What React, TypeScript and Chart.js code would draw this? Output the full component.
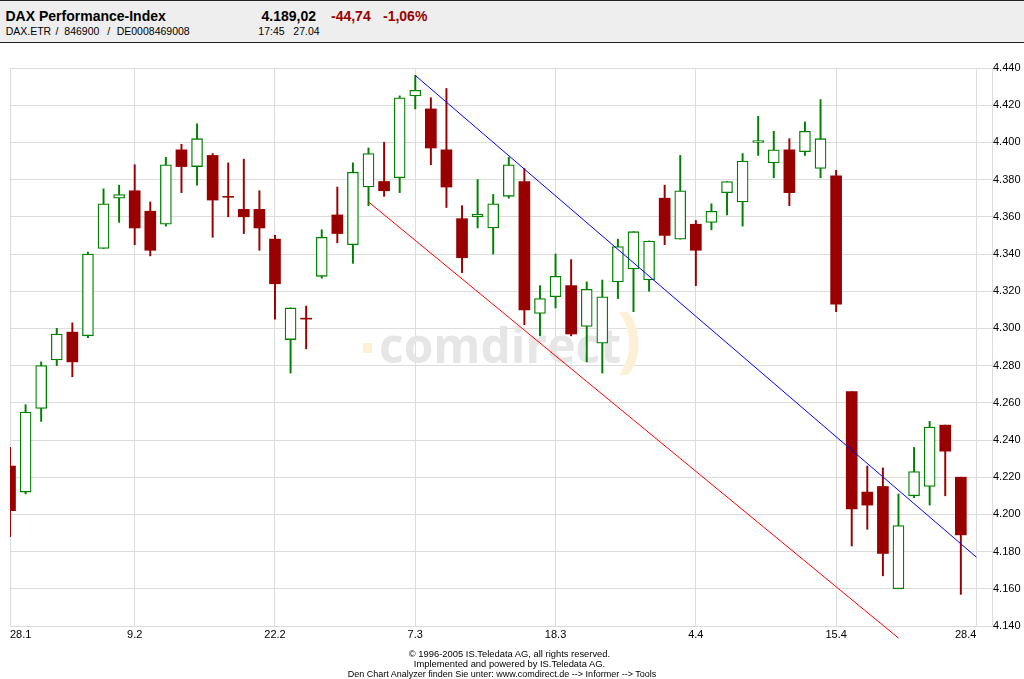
import React, { useEffect, useRef } from "react";
import { Chart, registerables } from "chart.js";

Chart.register(...registerables);

// ---- data ----
const dates = [
  "28.1", "31.1", "1.2", "2.2", "3.2", "4.2", "7.2", "8.2", "9.2", "10.2",
  "11.2", "14.2", "15.2", "16.2", "17.2", "18.2", "21.2", "22.2", "23.2", "24.2",
  "25.2", "28.2", "1.3", "2.3", "3.3", "4.3", "7.3", "8.3", "9.3", "10.3",
  "11.3", "14.3", "15.3", "16.3", "17.3", "18.3", "21.3", "22.3", "23.3", "24.3",
  "29.3", "30.3", "31.3", "1.4", "4.4", "5.4", "6.4", "7.4", "8.4", "11.4",
  "12.4", "13.4", "14.4", "15.4", "18.4", "19.4", "20.4", "21.4", "22.4", "25.4",
  "26.4", "27.4", "28.4",
];

const opens = [
  4226, 4212, 4257, 4283, 4298, 4296, 4343, 4370, 4374, 4363,
  4356, 4396, 4387, 4393, 4371, 4364, 4364, 4348, 4294, 4305.5,
  4328, 4361, 4345, 4376, 4379, 4381, 4425, 4418, 4396, 4359,
  4360, 4354, 4371, 4379, 4308, 4317, 4323, 4301, 4292, 4325,
  4332, 4326, 4370, 4348, 4356, 4357, 4373, 4368, 4400, 4389,
  4396, 4395, 4386, 4382, 4266, 4212, 4215, 4160, 4210, 4215,
  4248, 4220,
];
const highs = [
  4236, 4259, 4282, 4300, 4303, 4341, 4375, 4377, 4388, 4368,
  4392, 4399, 4410, 4394, 4389, 4391, 4374, 4350, 4311, 4312,
  4353, 4376, 4389, 4397, 4400, 4425, 4436, 4424, 4429, 4366,
  4380, 4372, 4392, 4386, 4323, 4340, 4337, 4325, 4326, 4348,
  4352, 4347, 4377, 4393, 4358, 4367, 4379, 4394, 4414, 4406,
  4402, 4411, 4423, 4385, 4266, 4226, 4225, 4211, 4236, 4250,
  4248, 4220,
];
const lows = [
  4188, 4211, 4250, 4280, 4274, 4295, 4343, 4357, 4345, 4339,
  4355, 4373, 4377, 4349, 4360, 4351, 4342, 4305, 4276, 4289,
  4327, 4346, 4335, 4366, 4371, 4373, 4418, 4388, 4365, 4330,
  4354, 4340, 4370, 4302, 4296, 4311, 4296, 4282, 4276, 4316,
  4309, 4320, 4345, 4348, 4323, 4353, 4361, 4355, 4393, 4381,
  4366, 4393, 4381, 4309, 4183, 4192, 4167, 4160, 4209, 4205,
  4210, 4157,
];
const closes = [
  4202, 4255, 4280, 4297, 4282, 4340, 4367, 4372, 4354, 4342,
  4388, 4387, 4402, 4369, 4370.5, 4360, 4354, 4324, 4311, 4305,
  4349, 4351, 4384, 4394, 4374, 4424, 4428, 4397, 4376, 4338,
  4361.5, 4367, 4388, 4310, 4316, 4328, 4297, 4321, 4317, 4344,
  4352, 4347, 4350, 4374, 4342, 4363, 4379, 4390, 4401, 4396,
  4373, 4406, 4402, 4313, 4203, 4205, 4179, 4194, 4223, 4247,
  4234, 4189,
];

const tickLabels = ["28.1", "9.2", "22.2", "7.3", "18.3", "4.4", "15.4", "28.4"];

const upperTrendDates = ["7.3", "28.4"];
const upperTrendValues = [4436, 4177];
const lowerTrendDates = ["2.3", "21.4"];
const lowerTrendValues = [4368, 4133.5];

const yMin = 4140;
const yMax = 4440;
const yStep = 20;

// ---- styles ----
const GREEN = "#008000";
const RED = "#990000";
const GRID = "#dcdcdc";
const FONT = '"Liberation Sans", Arial, sans-serif';

const fmtThousands = (v: number) => {
  const s = Math.round(v).toString();
  return s.length > 3 ? s.slice(0, s.length - 3) + "." + s.slice(-3) : s;
};

export default function App() {
  const ref = useRef<HTMLCanvasElement>(null);

  useEffect(() => {
    const canvas = ref.current!;
    Chart.defaults.font.family = FONT;

    const isUp = closes.map((c, i) => c >= opens[i]);
    const colors = isUp.map((u) => (u ? GREEN : RED));
    const bodyData = opens.map((o, i) => ({ x: i, y: [o, closes[i]] }));
    const wickData = lows.map((l, i) => ({ x: i, y: [l, highs[i]] }));
    const tickValues = tickLabels.map((l) => dates.indexOf(l));
    const upper = upperTrendDates.map((d, i) => ({ x: dates.indexOf(d), y: upperTrendValues[i] }));
    const lower = lowerTrendDates.map((d, i) => ({ x: dates.indexOf(d), y: lowerTrendValues[i] }));

    const watermark = {
      id: "watermark",
      beforeDatasetsDraw(chart: any) {
        const ctx = chart.ctx as CanvasRenderingContext2D;
        ctx.save();
        ctx.textBaseline = "alphabetic";
        ctx.textAlign = "left";
        ctx.font = 'bold 48px "Open Sans"';
        ctx.fillStyle = "#e6e6e6";
        const txt = "comdirect";
        const w = ctx.measureText(txt).width;
        ctx.translate(379, 363);
        ctx.scale(242 / w, 1);
        ctx.fillText(txt, 0, 0);
        ctx.restore();
        ctx.save();
        ctx.fillStyle = "#fdf0d6";
        ctx.fillRect(363, 343, 9, 10);
        ctx.font = 'bold 72px "Open Sans"';
        ctx.textBaseline = "alphabetic";
        ctx.fillText(")", 617, 364);
        ctx.restore();
      },
    };

    const chart = new Chart(canvas, {
      type: "bar",
      data: {
        datasets: [
          {
            type: "line",
            data: upper,
            borderColor: "#0000ff",
            borderWidth: 1,
            pointRadius: 0,
            fill: false,
            order: 0,
            clip: false,
          } as any,
          {
            type: "line",
            data: lower,
            borderColor: "#ff0000",
            borderWidth: 1,
            pointRadius: 0,
            fill: false,
            order: 0,
            clip: false,
          } as any,
          {
            type: "bar",
            data: bodyData,
            backgroundColor: isUp.map((u) => (u ? "#ffffff" : RED)),
            borderColor: colors,
            borderWidth: isUp.map((u) => (u ? 1.3 : 0)),
            borderSkipped: false,
            barThickness: 11,
            grouped: false,
            order: 1,
            clip: { left: 0, top: 0, right: 0, bottom: 0 },
          } as any,
          {
            type: "bar",
            data: wickData,
            backgroundColor: colors,
            borderWidth: 0,
            barThickness: 1.3,
            grouped: false,
            order: 2,
            clip: { left: 0, top: 0, right: 0, bottom: 0 },
          } as any,
        ],
      },
      options: {
        animation: false,
        responsive: false,
        events: [],
        layout: { padding: { left: 10, top: 68, right: 0, bottom: 0 } },
        plugins: { legend: { display: false }, tooltip: { enabled: false } },
        scales: {
          x: {
            type: "linear",
            min: 0,
            max: 63,
            offset: false,
            afterBuildTicks: (s: any) => {
              s.ticks = tickValues.map((v) => ({ value: v }));
            },
            afterFit: (s: any) => {
              s.height = 53;
            },
            grid: { color: GRID, drawTicks: false, offset: false, lineWidth: 1 },
            border: { color: GRID },
            ticks: {
              align: "inner",
              autoSkip: false,
              maxRotation: 0,
              padding: 2,
              color: "#000",
              font: { size: 11, family: FONT },
              callback: (v: any) => dates[v as number],
            },
          },
          y: {
            position: "right",
            min: yMin,
            max: yMax,
            afterFit: (s: any) => {
              s.width = 32;
            },
            grid: { color: GRID, drawTicks: false, lineWidth: 1 },
            border: { color: GRID },
            ticks: {
              stepSize: yStep,
              padding: 1,
              color: "#000",
              font: { size: 11, family: FONT },
              callback: (v: any) => fmtThousands(v as number),
            },
          },
        },
      } as any,
      plugins: [watermark],
    });
    return () => chart.destroy();
  }, []);

  const abs = (left: number, top: number, extra: any = {}) => ({
    position: "absolute" as const,
    left,
    top,
    whiteSpace: "nowrap" as const,
    ...extra,
  });
  const small = { fontSize: 10.5, lineHeight: "11px" };
  const big = { fontSize: 14, fontWeight: "bold", lineHeight: "14px" };
  const foot = { width: 600, textAlign: "center", fontSize: 9.4, lineHeight: "10px" };

  return (
    <div
      style={{
        position: "fixed",
        left: 0,
        top: 0,
        width: 1024,
        height: 679,
        background: "#fff",
        overflow: "hidden",
        fontFamily: FONT,
        color: "#000",
      }}
    >
      <canvas ref={ref} width={1024} height={679} style={{ position: "absolute", left: 0, top: 0, width: 1024, height: 679 }} />
      <div
        style={{
          position: "absolute",
          left: 0,
          top: 0,
          width: 1024,
          height: 43,
          boxSizing: "border-box",
          background: "#eeeeee",
          borderTop: "1px solid #222",
          borderBottom: "1px solid #222",
        }}
      />
      <div style={abs(5.5, 8.5, big)}>DAX Performance-Index</div>
      <div style={abs(261.5, 8.5, big)}>4.189,02</div>
      <div style={abs(331, 8.5, { ...big, color: RED })}>-44,74</div>
      <div style={abs(383, 8.5, { ...big, color: RED })}>-1,06%</div>
      <div style={abs(5.7, 26, small)}>DAX.ETR</div>
      <div style={abs(55.5, 26, small)}>/</div>
      <div style={abs(64.3, 26, small)}>846900</div>
      <div style={abs(107.3, 26, small)}>/</div>
      <div style={abs(116.7, 26, small)}>DE0008469008</div>
      <div style={abs(258.3, 26, small)}>17:45</div>
      <div style={abs(293.3, 26, small)}>27.04</div>
      <div style={abs(209.5, 649, foot)}>© 1996-2005 IS.Teledata AG, all rights reserved.</div>
      <div style={abs(209.5, 659, foot)}>Implemented and powered by IS.Teledata AG.</div>
      <div style={abs(202, 669, { ...foot, fontSize: 9 })}>
        Den Chart Analyzer finden Sie unter: www.comdirect.de --&gt; Informer --&gt; Tools
      </div>
    </div>
  );
}
